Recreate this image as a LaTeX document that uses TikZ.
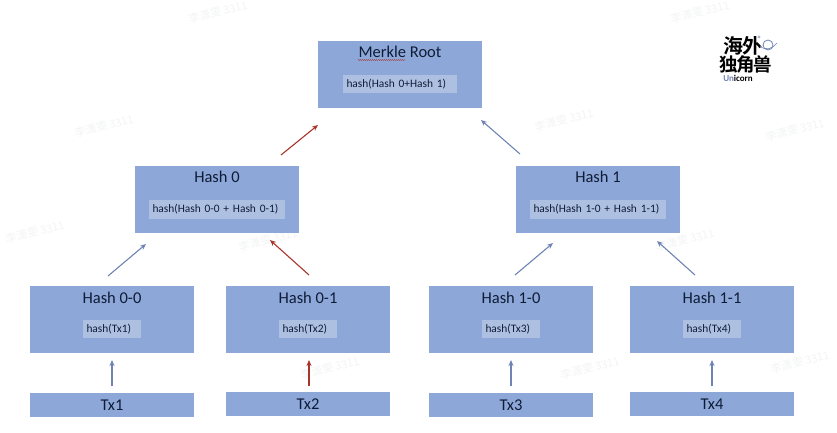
\documentclass[tikz,border=0pt]{standalone}
\usepackage{fontspec}
\setmainfont{Carlito}
\newfontfamily\cjk{Noto Sans CJK SC}
\newfontfamily\cjkb{Noto Sans CJK SC Bold}
\usetikzlibrary{decorations.pathmorphing,arrows.meta}
\definecolor{boxblue}{HTML}{8DA8D8}
\definecolor{innerblue}{HTML}{AEC0E2}
\definecolor{inktext}{HTML}{0F1C36}
\definecolor{arrblue}{HTML}{6F83B5}
\definecolor{arrred}{HTML}{A8342C}
\definecolor{wmgrey}{HTML}{F3F4F5}
\tikzset{
 x=1pt,y=-1pt,
 hashbox/.style={fill=boxblue,draw=none,minimum width=164pt,minimum height=67pt,inner sep=0pt},
 txbox/.style={fill=boxblue,draw=none,minimum width=164pt,minimum height=24pt,inner sep=0pt,text=inktext,font=\fontsize{16.5}{18}\selectfont},
 titletext/.style={text=inktext,font=\fontsize{16.5}{18}\selectfont,inner sep=0pt},
 innerbox/.style={fill=innerblue,draw=none,minimum height=18pt,inner ysep=0pt,inner xsep=3.5pt,align=left,text=inktext,font=\fontsize{11.4}{13}\selectfont},
 bluearrow/.style={draw=arrblue,line width=1.1pt,-{Stealth[length=6pt,width=5pt]}},
 redarrow/.style={draw=arrred,line width=1.1pt,-{Stealth[length=6pt,width=5pt]}},
 wm/.style={text=wmgrey,font=\cjk\fontsize{11}{12}\selectfont,rotate=14,inner sep=0pt},
}
\begin{document}
\begin{tikzpicture}
\useasboundingbox (0,0) rectangle (837,433);
\fill[white] (0,0) rectangle (837,433);
% watermarks
\foreach \n/\x/\y in {a/218/12,c/700/12,d/104/126,e/564/120,f/795/130,g/268/240,h/685/240,i/330/368,j/590/368,k/800/362,l/35/232}
  \node[wm] (wm\n) at (\x,\y) {李潇雯 3311};
% boxes
\node[hashbox] (root) at (400,74.5) {};
\node[titletext] (rootT) at (400,52) {Merkle Root};
\node[innerbox,text width=107pt] (rootI) at (400,84) {hash(Hash 0+Hash 1)};
\coordinate (sqa) at (358,60); \coordinate (sqb) at (405,60);
\draw[arrred,line width=.5pt,decorate,decoration={snake,amplitude=.5pt,segment length=2pt}] (sqa) -- (sqb);
\node[hashbox] (h0) at (217,199.5) {};
\node[titletext] at (217,177) (h0T) {Hash 0};
\node[innerbox,text width=129pt,minimum height=19pt] (h0I) at (217,209) {hash(Hash 0-0 + Hash 0-1)};
\node[hashbox] (h1) at (598,199.5) {};
\node[titletext] at (598,177) (h1T) {Hash 1};
\node[innerbox,text width=129pt,minimum height=19pt] (h1I) at (598,209) {hash(Hash 1-0 + Hash 1-1)};
\foreach \n/\t/\i/\x in {a/Hash 0-0/hash(Tx1)/112,b/Hash 0-1/hash(Tx2)/308,c/Hash 1-0/hash(Tx3)/511,d/Hash 1-1/hash(Tx4)/712}{
  \node[hashbox] (l\n) at (\x,319.5) {};
  \node[titletext] (l\n T) at (\x,297.5) {\t};
  \node[innerbox,text width=51pt] (l\n I) at (\x,329) {\i};
}
\node[txbox] (t1) at (112,405) {Tx1};
\node[txbox] (t2) at (308,404) {Tx2};
\node[txbox] (t3) at (511,405) {Tx3};
\node[txbox] (t4) at (712,404) {Tx4};
% arrow ends
\coordinate (r0a) at (281,155); \coordinate (r0b) at (318,125);
\coordinate (r1a) at (520,154); \coordinate (r1b) at (481,120);
\coordinate (aa) at (108,276);  \coordinate (ab) at (146,244);
\coordinate (ba) at (309,275);  \coordinate (bb) at (270,240);
\coordinate (ca) at (515,275);  \coordinate (cb) at (553,243);
\coordinate (da) at (695,275);  \coordinate (db) at (657,241);
\coordinate (ta) at (112,386);  \coordinate (tb) at (112,360);
\coordinate (ua) at (309,386);  \coordinate (ub) at (309,360);
\coordinate (va) at (511,386);  \coordinate (vb) at (511,360);
\coordinate (wa) at (712,386);  \coordinate (wb) at (712,360);
\draw[redarrow] (r0a) -- (r0b);
\draw[bluearrow] (r1a) -- (r1b);
\draw[bluearrow] (aa) -- (ab);
\draw[redarrow] (ba) -- (bb);
\draw[bluearrow] (ca) -- (cb);
\draw[bluearrow] (da) -- (db);
\draw[bluearrow] (ta) -- (tb);
\draw[redarrow] (ua) -- (ub);
\draw[bluearrow] (va) -- (vb);
\draw[bluearrow] (wa) -- (wb);
% logo
\node[inner sep=0pt,font=\cjkb\fontsize{20}{20}\selectfont] (logo1) at (743,46) {海\hspace{-1pt}外};
\node[inner sep=0pt,font=\cjkb\fontsize{18.5}{19}\selectfont] (logo2) at (746,64) {独\hspace{-1.5pt}角\hspace{-1.5pt}兽};
\node[inner sep=0pt,font=\bfseries\fontsize{9}{9}\selectfont] (logo3) at (738,78) {\textcolor{arrblue}{Un}icorn};
\draw[arrblue,line width=.8pt] (768,45) circle (5);
\draw[arrblue,line width=.6pt] (760,46) .. controls (765,51) and (773,49) .. (777,43);
\fill[arrblue!60] (759,37) circle (1.7);
\end{tikzpicture}
\end{document}
